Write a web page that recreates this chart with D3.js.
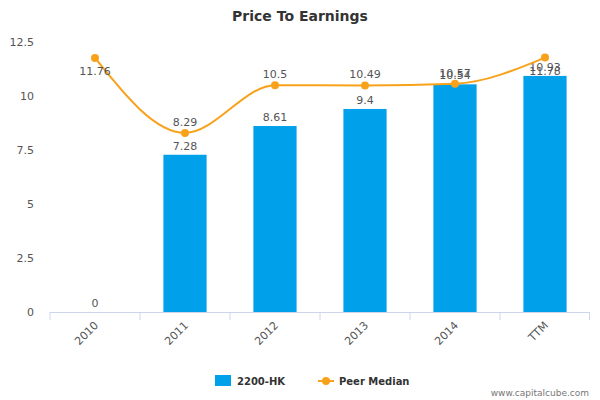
<!DOCTYPE html>
<html><head><meta charset="utf-8">
<script src="https://cdn.jsdelivr.net/npm/d3@7"></script>
<style>body{margin:0;background:#fff;font-family:"DejaVu Sans",sans-serif}</style>
</head><body><div id="chart"></div>
<script>
const categories = ["2010", "2011", "2012", "2013", "2014", "TTM"];
const companyValues = [0, 7.28, 8.61, 9.4, 10.54, 10.93];
const peerValues = [11.76, 8.29, 10.5, 10.49, 10.57, 11.78];
const yTicks = [0, 2.5, 5, 7.5, 10, 12.5];

const width = 600, height = 400;
const margin = { top: 42, right: 10, bottom: 88, left: 50 };

const svg = d3.select("#chart").append("svg")
    .attr("width", width).attr("height", height);

svg.append("text").attr("x", width / 2).attr("y", 21)
    .attr("text-anchor", "middle").attr("font-size", 14).attr("font-weight", "bold")
    .attr("fill", "#333").text("Price To Earnings");

const x = d3.scaleBand().domain(categories)
    .range([margin.left, width - margin.right]).paddingInner(0.52).paddingOuter(0.26);
const y = d3.scaleLinear().domain([0, 12.5]).range([height - margin.bottom, margin.top]);

// y axis labels
svg.append("g").selectAll("text").data(yTicks).enter().append("text")
    .attr("x", 34).attr("y", d => y(d) + 4).attr("text-anchor", "end")
    .attr("font-size", 11).attr("fill", "#555").text(d => d);

// x axis line with ticks between categories
const base = y(0);
const step = x.step();
svg.append("line").attr("x1", margin.left).attr("x2", width - margin.right)
    .attr("y1", base + 0.5).attr("y2", base + 0.5).attr("stroke", "#ccd6eb");
svg.append("g").selectAll("line").data(categories).enter().append("line")
    .attr("x1", d => x(d) + x.bandwidth() / 2 - step / 2)
    .attr("x2", d => x(d) + x.bandwidth() / 2 - step / 2)
    .attr("y1", base).attr("y2", base + 8).attr("stroke", "#ccd6eb");
svg.append("line")
    .attr("x1", width - margin.right - 0.5).attr("x2", width - margin.right - 0.5)
    .attr("y1", base).attr("y2", base + 8).attr("stroke", "#ccd6eb");

svg.append("g").selectAll("text").data(categories).enter().append("text")
    .attr("transform", d => `translate(${x(d) + x.bandwidth() / 2 + 4},${base + 14}) rotate(-45)`)
    .attr("text-anchor", "end").attr("font-size", 11).attr("fill", "#555").text(d => d);

// bars
svg.append("g").selectAll("rect").data(companyValues).enter().append("rect")
    .attr("x", (d, i) => x(categories[i])).attr("width", x.bandwidth())
    .attr("y", d => y(d)).attr("height", d => base - y(d)).attr("fill", "#00a0eb");
svg.append("g").selectAll("text").data(companyValues).enter().append("text")
    .attr("x", (d, i) => x(categories[i]) + x.bandwidth() / 2).attr("y", d => y(d) - 5)
    .attr("text-anchor", "middle").attr("font-size", 11).attr("fill", "#555").text(d => d);

// peer median line
const cx = i => x(categories[i]) + x.bandwidth() / 2;
const line = d3.line().x((d, i) => cx(i)).y(d => y(d)).curve(d3.curveMonotoneX);
svg.append("path").datum(peerValues).attr("d", line)
    .attr("fill", "none").attr("stroke", "#f8a21b").attr("stroke-width", 2);
svg.append("g").selectAll("circle").data(peerValues).enter().append("circle")
    .attr("cx", (d, i) => cx(i)).attr("cy", d => y(d)).attr("r", 4).attr("fill", "#f8a21b");
svg.append("g").selectAll("text").data(peerValues).enter().append("text")
    .attr("x", (d, i) => cx(i))
    .attr("y", (d, i) => (i === 0 || i === categories.length - 1) ? y(d) + 17 : y(d) - 7)
    .attr("text-anchor", "middle").attr("font-size", 11).attr("fill", "#555").text(d => d);

// legend
const lg = svg.append("g").attr("transform", "translate(215,375)");
lg.append("rect").attr("width", 16).attr("height", 11).attr("fill", "#00a0eb");
lg.append("text").attr("x", 22).attr("y", 10).attr("font-size", 10).attr("font-weight", "bold")
    .attr("fill", "#333").text("2200-HK");
lg.append("line").attr("x1", 103).attr("x2", 119).attr("y1", 6).attr("y2", 6)
    .attr("stroke", "#f8a21b").attr("stroke-width", 2);
lg.append("circle").attr("cx", 111).attr("cy", 6).attr("r", 4).attr("fill", "#f8a21b");
lg.append("text").attr("x", 124).attr("y", 10).attr("font-size", 10).attr("font-weight", "bold")
    .attr("fill", "#333").text("Peer Median");

svg.append("text").attr("x", 589).attr("y", 396).attr("text-anchor", "end")
    .attr("font-size", 9).attr("fill", "#777").text("www.capitalcube.com");
</script></body></html>
